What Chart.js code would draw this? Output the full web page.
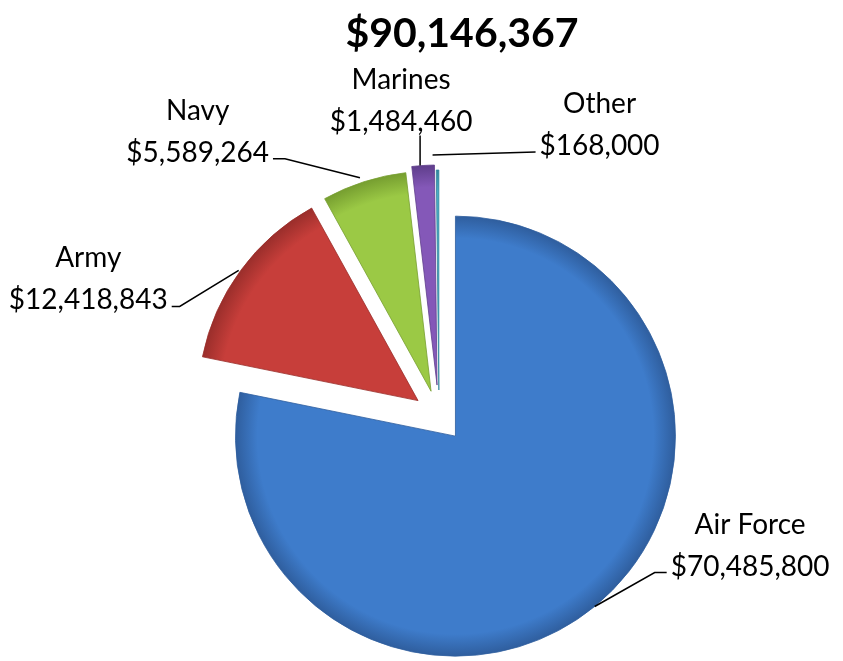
<!DOCTYPE html>
<html>
<head>
<meta charset="utf-8">
<script src="https://cdn.jsdelivr.net/npm/chart.js@4/dist/chart.umd.min.js"></script>
<style>
  html, body { margin: 0; padding: 0; background: #fff; }
  #wrap { width: 843px; height: 661px; position: relative; }
</style>
</head>
<body>
<div id="wrap"><canvas id="chart"></canvas></div>
<script>
const branches = ["Air Force", "Army", "Navy", "Marines", "Other"];
const funding = [70485800, 12418843, 5589264, 1484460, 168000];
const totalLabel = "$90,146,367";

const sliceColors = ["#3e7ccb", "#c73e3a", "#9bc945", "#8458b8", "#4bacc6"];
const edgeColors = ["#2f5e9e", "#9a2e2b", "#769e30", "#5f3e8b", "#31859c"];
// how far each slice is pulled out of the pie (px)
const explode = [26, 26, 26, 31, 26];
const pieRadius = 220;

// callout leader lines, relative to the point on the slice edge
const callouts = [
  { start: [0, 0], elbow: [60, -34], stub: 12, align: "left" },
  { start: [-2, 0], elbow: [-61, 36], stub: -8, align: "right" },
  { start: [-4, -4], elbow: [-79, -23], stub: -12, align: "right" },
  { start: [-3, 0], elbow: [-3, -30], stub: 0, align: "center", shift: -19 },
  { start: [-5, -15], elbow: [98, -18], stub: 0, align: "left" },
];

const money = (v) => "$" + v.toLocaleString("en-US");
const total = funding.reduce((a, b) => a + b, 0);

function midAngle(i) {
  const before = funding.slice(0, i).reduce((a, b) => a + b, 0);
  return -Math.PI / 2 + 2 * Math.PI * (before + funding[i] / 2) / total;
}

function sliceCenter(chart, i) {
  const area = chart.chartArea;
  const mid = midAngle(i);
  return {
    x: (area.left + area.right) / 2 + Math.cos(mid) * explode[i],
    y: (area.top + area.bottom) / 2 + Math.sin(mid) * explode[i],
  };
}

function sliceFill(context) {
  const i = context.dataIndex;
  const chart = context.chart;
  if (!chart.chartArea) return sliceColors[i];
  const c = sliceCenter(chart, i);
  const g = chart.ctx.createRadialGradient(c.x, c.y, 0, c.x, c.y, pieRadius);
  g.addColorStop(0, sliceColors[i]);
  g.addColorStop(0.9, sliceColors[i]);
  g.addColorStop(1, edgeColors[i]);
  return g;
}

// move each slice out along its middle angle
const explodePlugin = {
  id: "explode",
  afterDatasetsUpdate(chart) {
    chart.getDatasetMeta(0).data.forEach((arc, i) => {
      const c = sliceCenter(chart, i);
      arc.x = c.x;
      arc.y = c.y;
    });
  }
};

const calloutPlugin = {
  id: "callouts",
  afterDatasetsDraw(chart) {
    const ctx = chart.ctx;
    const arcs = chart.getDatasetMeta(0).data;
    const area = chart.chartArea;
    ctx.save();

    ctx.fillStyle = "#000";
    ctx.textAlign = "center";
    ctx.textBaseline = "middle";
    ctx.font = "bold 41px Lato";
    ctx.fillText(totalLabel, (area.left + area.right) / 2 + 23, 34);

    ctx.font = "28px Lato";
    ctx.strokeStyle = "#000";
    ctx.lineWidth = 1.5;
    arcs.forEach((arc, i) => {
      const mid = (arc.startAngle + arc.endAngle) / 2;
      const ex = arc.x + Math.cos(mid) * arc.outerRadius;
      const ey = arc.y + Math.sin(mid) * arc.outerRadius;
      const c = callouts[i];
      const x0 = ex + c.start[0], y0 = ey + c.start[1];
      const x1 = ex + c.elbow[0], y1 = ey + c.elbow[1];
      const x2 = x1 + c.stub;
      ctx.beginPath();
      ctx.moveTo(x0, y0);
      ctx.lineTo(x1, y1);
      ctx.lineTo(x2, y1);
      ctx.stroke();

      const name = branches[i];
      const value = money(funding[i]);
      const w = Math.max(ctx.measureText(name).width, ctx.measureText(value).width);
      let cx, vy;
      if (c.align === "left") { cx = x2 + 4 + w / 2; vy = y1 - 6; }
      else if (c.align === "right") { cx = x2 - 4 - w / 2; vy = y1 - 6; }
      else { cx = x1 + (c.shift || 0); vy = y1 - 14; }
      ctx.fillText(value, cx, vy);
      ctx.fillText(name, cx, vy - 42);
    });
    ctx.restore();
  }
};

new Chart(document.getElementById("chart"), {
  type: "pie",
  data: {
    labels: branches,
    datasets: [{
      data: funding,
      backgroundColor: sliceFill,
      borderColor: edgeColors,
      borderWidth: 0.8,
      radius: pieRadius,
    }],
  },
  options: {
    responsive: true,
    maintainAspectRatio: false,
    animation: false,
    layout: {
      padding: { top: 182, bottom: 11, left: 100, right: 65 },
    },
    plugins: {
      legend: { display: false },
      tooltip: { enabled: false },
      title: { display: false },
    },
  },
  plugins: [explodePlugin, calloutPlugin],
});
</script>
</body>
</html>
